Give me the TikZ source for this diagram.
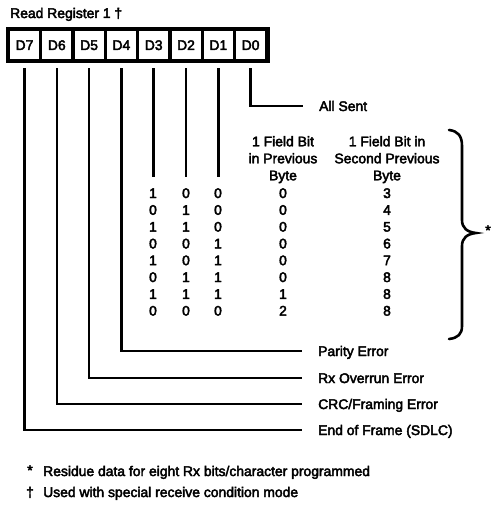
\documentclass[tikz,border=0pt]{standalone}
\usepackage{fontspec}
\setmainfont{Liberation Sans}[BoldFont={Liberation Sans}, BoldFeatures={FakeBold=3}]
\begin{document}
\begin{tikzpicture}[x=1pt,y=-1pt,
  every node/.style={font=\bfseries},
  txt/.style={inner sep=0pt, text height=10pt, text depth=0pt, font=\fontsize{13.9}{16}\selectfont\bfseries},
  lbl/.style={txt, anchor=west},
  num/.style={txt, anchor=center},
  hdr/.style={inner sep=0pt, align=center, anchor=north, font=\fontsize{13.9}{17}\selectfont\bfseries},
  sym/.style={inner sep=0pt, anchor=base, font=\fontsize{13.9}{16}\selectfont\bfseries},
  cell/.style={txt, fill=white, minimum width=29pt, minimum height=28pt, text height=10pt},
  wire/.style={line width=2.5pt},
  brc/.style={line width=2.6pt, line cap=round}]
\useasboundingbox (0,0) rectangle (498,505);
\fill[white] (0,0) rectangle (498,505);

\node[lbl] (title) at (10,13) {Read Register 1 †};

% register
\fill[black] (6,27) rectangle (270,63);
\foreach \i/\t in {0/D7,1/D6,2/D5,3/D4,4/D3,5/D2,6/D1,7/D0}{
  \node[cell] (c\i) at (24.5+32.3*\i,45) {\t};
}

% labels
\node[lbl] (allsent) at (319,106) {All Sent};
\node[lbl] (parity) at (318,351) {Parity Error};
\node[lbl] (overrun) at (318,378) {Rx Overrun Error};
\node[lbl] (crc) at (318,404) {CRC/Framing Error};
\node[lbl] (eof) at (318,430) {End of Frame (SDLC)};

% connectors
\draw[wire] ([yshift=-9pt]c7.south) |- ([xshift=-16pt]allsent.west);
\draw[wire] ([yshift=-9pt]c3.south) |- ([xshift=-16pt]parity.west);
\draw[wire] ([yshift=-9pt]c2.south) |- ([xshift=-16pt]overrun.west);
\draw[wire] ([yshift=-9pt]c1.south) |- ([xshift=-16pt]crc.west);
\draw[wire] ([yshift=-9pt]c0.south) |- ([xshift=-16pt]eof.west);
\foreach \i in {4,5,6}{
  \coordinate (e\i) at (24.5+32.3*\i,177);
  \draw[wire] ([yshift=-9pt]c\i.south) -- (e\i);
}

% headers
\node[hdr] (h1) at (283,136) {1 Field Bit\\in Previous\\Byte};
\node[hdr] (h2) at (387,136) {1 Field Bit in\\Second Previous\\Byte};

% table
\foreach \a/\b/\c/\d/\e [count=\k from 0] in {1/0/0/0/3,0/1/0/0/4,1/1/0/0/5,0/0/1/0/6,1/0/1/0/7,0/1/1/0/8,1/1/1/1/8,0/0/0/2/8}{
  \node[num] (ra\k) at (153,193+16.8*\k) {\a};
  \node[num] (rb\k) at (186,193+16.8*\k) {\b};
  \node[num] (rc\k) at (218,193+16.8*\k) {\c};
  \node[num] (rd\k) at (283,193+16.8*\k) {\d};
  \node[num] (re\k) at (387,193+16.8*\k) {\e};
}

% brace
\draw[brc] (449,130) .. controls (458,131) and (462,136) .. (462,146) -- (462,220)
  .. controls (462,228) and (467,232) .. (476,233)
  .. controls (467,234) and (462,238) .. (462,246) -- (462,326)
  .. controls (462,334) and (458,338) .. (449,339);
\node[sym] (star) at (488,235) {*};

% footnotes
\node[sym] (fs) at (30,475) {*};
\node[lbl] (f1) at (43,471) {Residue data for eight Rx bits/character programmed};
\node[sym] (fd) at (30,497) {†};
\node[lbl] (f2) at (43,492) {Used with special receive condition mode};
\end{tikzpicture}
\end{document}
